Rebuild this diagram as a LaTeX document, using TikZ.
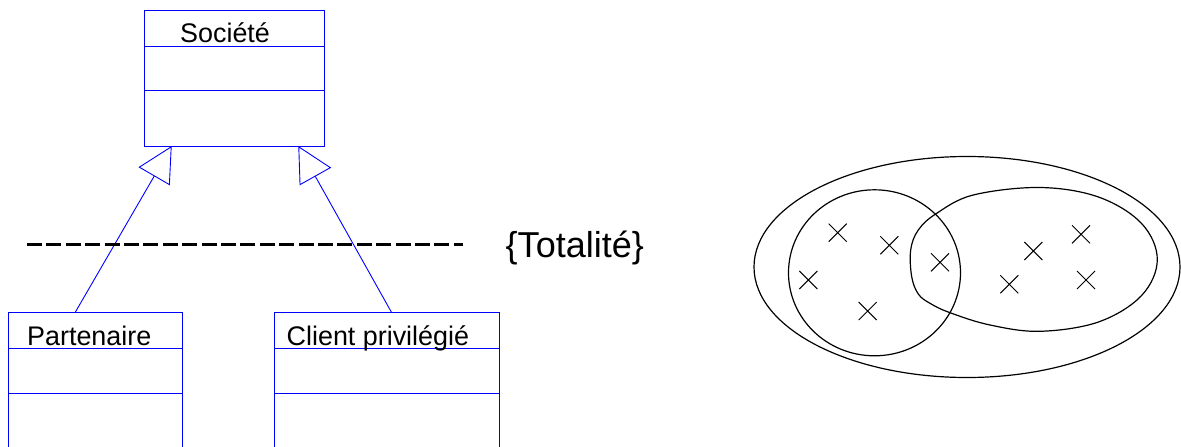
\documentclass[tikz,border=0pt]{standalone}
\usepackage{fontspec}
\setmainfont{Liberation Sans}
\usetikzlibrary{arrows.meta}
\begin{document}
\begin{tikzpicture}[x=1pt,y=-1pt,
  umlbox/.style={draw=blue,line width=1pt,rectangle,inner sep=0pt,outer sep=0pt,anchor=north west},
  cname/.style={anchor=base west,inner sep=0pt,font=\fontsize{26.9}{30}\selectfont},
  gen/.style={draw=blue,line width=0.9pt,-{Triangle[open,length=35pt,width=36pt]}},
  setline/.style={draw=black,line width=1.2pt},
  cross/.style={draw=black,line width=1pt}]
\clip (0,0) rectangle (1181,447);
\fill[white] (0,0) rectangle (1181,447);
% boxes
\node[umlbox,minimum width=179.6pt,minimum height=136pt] (soc) at (144.7,10) {};
\draw[blue,line width=1pt] (144.7,46) -- (324.3,46) (144.7,90) -- (324.3,90);
\node[cname] (socl) at (180,42.5) {Société};
\node[umlbox,minimum width=174.4pt,minimum height=136pt] (part) at (8.3,312.7) {};
\draw[blue,line width=1pt] (8.3,348.3) -- (182.7,348.3) (8.3,393.3) -- (182.7,393.3);
\node[cname] (partl) at (27,345) {Partenaire};
\node[umlbox,minimum width=225pt,minimum height=136pt] (cli) at (274.3,312.7) {};
\draw[blue,line width=1pt] (274.3,348.3) -- (499.3,348.3) (274.3,393.3) -- (499.3,393.3);
\node[cname] (clil) at (286.5,345) {Client privilégié};
% generalisations
\coordinate (socA) at (171.7,146);
\coordinate (socB) at (298.3,146);
\coordinate (partT) at (75,312.7);
\coordinate (cliT) at (391.7,312.7);
\draw[gen] (partT) -- (socA);
\draw[gen] (cliT) -- (socB);
% constraint
\coordinate (dA) at (27,244);
\coordinate (dB) at (463,244);
\draw[black,line width=3pt,dash pattern=on 15pt off 4.4pt] (dA) -- (dB);
\node[anchor=base west,inner sep=0pt,font=\fontsize{36}{40}\selectfont] (tot) at (505.5,257) {\{Totalité\}};
% sets
\draw[setline] (967,267) ellipse [x radius=213, y radius=110.5];
\draw[setline] (874.5,272.8) ellipse [x radius=86, y radius=83];
\draw[setline] plot[smooth cycle,tension=0.6] coordinates {
  (1040,187.5) (1098.7,197.1) (1141.6,223.5) (1157.3,259.5) (1141.6,295.5) (1098.7,321.9)
  (1040,331.3) (990,325) (950,312.7) (930,303.3) (918.3,294) (911.7,276.7) (910.7,250)
  (918.3,230) (936.7,213.3) (973.3,195)};
\foreach \px/\py in {837.7/232.7, 889.3/245.3, 808.3/280, 867.7/311, 940/262.3,
    1033.3/251, 1081/234.3, 1009.3/284.3, 1086/280}{
  \draw[cross] (\px-9,\py-9) -- (\px+9,\py+9) (\px-9,\py+9) -- (\px+9,\py-9);
}
\end{tikzpicture}
\end{document}
